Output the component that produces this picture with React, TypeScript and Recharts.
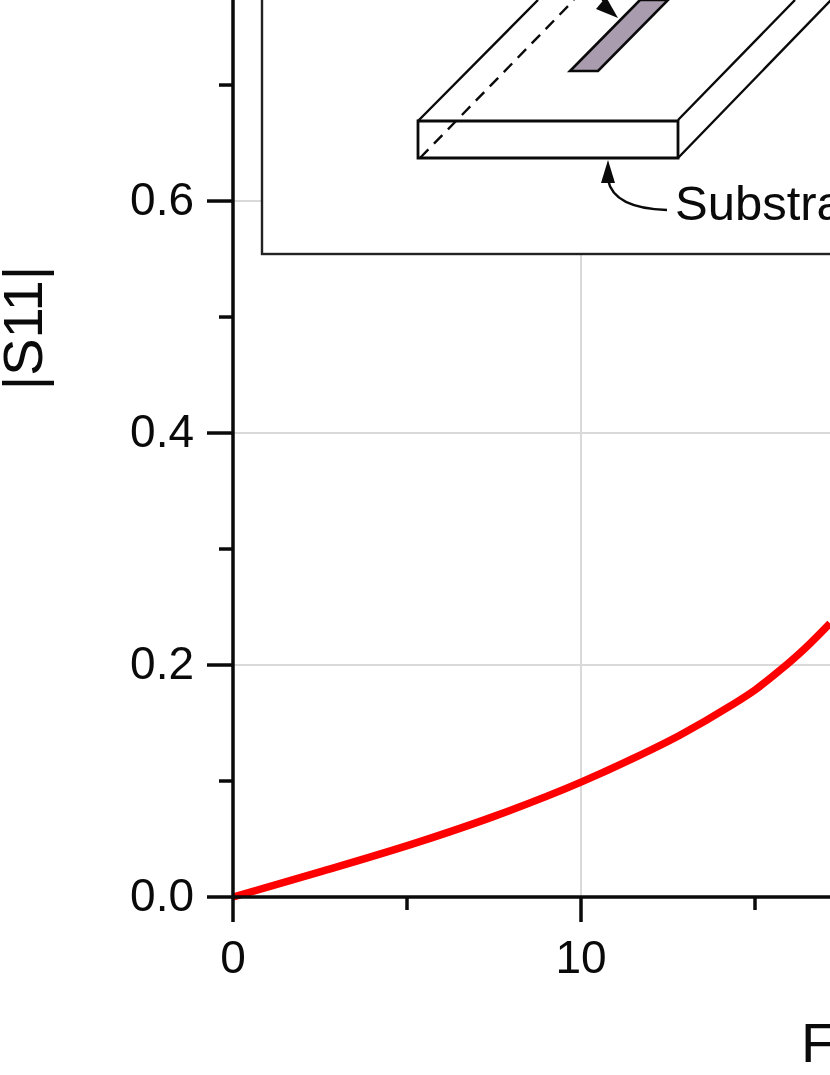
import React from 'react';
import { LineChart, Line, XAxis, YAxis, CartesianGrid, Customized, Label } from 'recharts';

const frequency = [0, 2.5, 5.37, 7.5, 10, 11.5, 12.84, 14.28, 15, 15.72, 16.44, 17.155];
const s11 = [0, 0.0216, 0.0477, 0.0695, 0.099, 0.1195, 0.1395, 0.1645, 0.1785, 0.1955, 0.2145, 0.236];
const xTicks = [0, 5, 10, 15];
const yTicks = [0, 0.1, 0.2, 0.3, 0.4, 0.5, 0.6, 0.7];
const xMajor = [0, 10];
const yMajor = [0, 0.2, 0.4, 0.6];
const xGrid = [10];
const yGrid = [0.2, 0.4, 0.6];
const data = frequency.map((f, i) => ({ f, v: s11[i] }));

const FONT = '"Liberation Sans", Arial, sans-serif';
const INK = '#0a0a0a';

const XTick = ({ x, payload }: any) => {
  const major = xMajor.includes(payload.value);
  return (
    <g>
      <line x1={x} x2={x} y1={897} y2={major ? 922 : 910} stroke={INK} strokeWidth={3.5} />
      {major && (
        <text x={x} y={973} textAnchor="middle" fontSize={46} fontFamily={FONT} fill={INK}>{payload.value}</text>
      )}
    </g>
  );
};

const YTick = ({ y, payload }: any) => {
  const major = yMajor.some((m) => Math.abs(m - payload.value) < 1e-6);
  return (
    <g>
      <line x1={major ? 207 : 219} x2={233} y1={y} y2={y} stroke={INK} strokeWidth={3.5} />
      {major && (
        <text x={194} y={y + 14} textAnchor="end" fontSize={46} fontFamily={FONT} fill={INK}>{payload.value.toFixed(1)}</text>
      )}
    </g>
  );
};

const Inset = () => (
  <g fill="none" stroke={INK} strokeWidth={2.4}>
    <rect x={262} y={-20} width={620} height={274} fill="#fff" stroke="#222" strokeWidth={2.4} />
    <path d="M418 121 L538 0 M678 120 L795 0 M678 158 L831 0" />
    <path d="M420 158 L574 0" strokeDasharray="12 8" />
    <path d="M418 121 H678 V158 H418 Z" strokeWidth={2.8} />
    <polygon points="570,71 598,71 668,0 640,0" fill="#a99cae" strokeWidth={2.6} />
    <path d="M597 -8 L612 12" />
    <polygon points="618,18 596,9 606,-3" fill={INK} stroke="none" />
    <path d="M667 210 C 635 209, 612 200, 608 180" />
    <polygon points="608,160 601,183 615,183" fill={INK} stroke="none" />
    <text x={675} y={220} fontSize={49} fontFamily={FONT} fill={INK} stroke="none">Substrate</text>
  </g>
);

export default function App() {
  return (
    <div style={{ position: 'absolute', left: 0, top: 0, width: 830, height: 1075, overflow: 'hidden', background: '#fff', filter: 'blur(0.5px)' }}>
      <LineChart width={830} height={1075} data={data} margin={{ top: 0, right: 0, bottom: 0, left: 0 }}>
        <CartesianGrid stroke="#d9d9d9" strokeWidth={2} horizontalValues={yGrid} verticalValues={xGrid} />
        <XAxis
          type="number"
          dataKey="f"
          domain={[0, 17.155]}
          ticks={xTicks}
          height={178}
          tick={<XTick />}
          tickLine={false}
          stroke={INK}
          strokeWidth={3.5}
          interval={0}
        >
          <Label content={() => (
            <text x={801} y={1062} fontSize={56} fontFamily={FONT} fill={INK}>Frequency (GHz)</text>
          )} />
        </XAxis>
        <YAxis
          type="number"
          domain={[0, 0.7733]}
          ticks={yTicks}
          width={233}
          tick={<YTick />}
          tickLine={false}
          stroke={INK}
          strokeWidth={3.5}
          interval={0}
        >
          <Label content={() => (
            <text transform="translate(42 328) rotate(-90)" textAnchor="middle" fontSize={56} fontFamily={FONT} fill={INK}>|S11|</text>
          )} />
        </YAxis>
        <Customized component={Inset} />
        <Line dataKey="v" type="monotone" stroke="#ff0000" strokeWidth={7.5} dot={false} isAnimationActive={false} />
      </LineChart>
    </div>
  );
}
